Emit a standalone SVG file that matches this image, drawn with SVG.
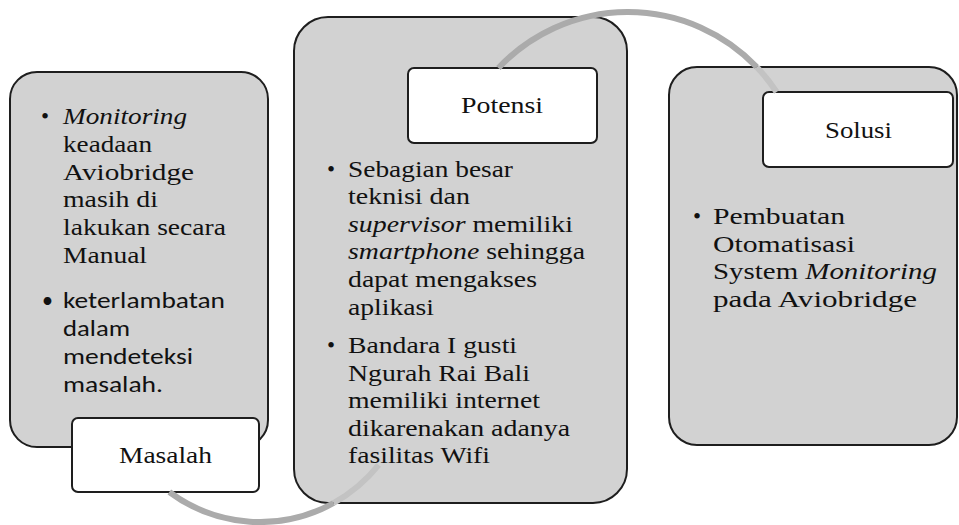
<svg xmlns="http://www.w3.org/2000/svg" width="959" height="525" viewBox="0 0 959 525">
  <style>
    .panel { fill: #d2d2d2; stroke: #1e1e1e; stroke-width: 2; }
    .tag { fill: #ffffff; stroke: #1e1e1e; stroke-width: 2; }
    .arc { fill: none; stroke: #ababab; stroke-width: 6; }
    .arc-dim { fill: none; stroke: #c3c3c3; stroke-width: 6; }
    .serif { font-family: 'Times New Roman', Times, Tinos, 'Liberation Serif', 'Nimbus Roman', 'Noto Serif', serif; font-size: 23px; fill: #111111; }
    .sans { font-family: Carlito, Calibri, Lato, 'Liberation Sans', sans-serif; font-size: 22px; fill: #111111; }
  </style>

  <!-- Masalah -->
  <g id="masalah">
    <rect class="panel" x="10" y="72" width="258" height="375" rx="27"/>
    <g class="serif">
      <text x="41" y="124">•</text>
      <text x="63" y="124" font-style="italic" textLength="124" lengthAdjust="spacingAndGlyphs">Monitoring</text>
      <text x="63" y="152" textLength="89" lengthAdjust="spacingAndGlyphs">keadaan</text>
      <text x="63" y="180" textLength="131" lengthAdjust="spacingAndGlyphs">Aviobridge</text>
      <text x="63" y="207" textLength="95" lengthAdjust="spacingAndGlyphs">masih di</text>
      <text x="63" y="235" textLength="163" lengthAdjust="spacingAndGlyphs">lakukan secara</text>
      <text x="63" y="263" textLength="84" lengthAdjust="spacingAndGlyphs">Manual</text>
    </g>
    <g class="sans">
      <text x="42" y="308">•</text>
      <text x="63" y="308" textLength="162" lengthAdjust="spacingAndGlyphs">keterlambatan</text>
      <text x="63" y="336" textLength="67" lengthAdjust="spacingAndGlyphs">dalam</text>
      <text x="63" y="364" textLength="130" lengthAdjust="spacingAndGlyphs">mendeteksi</text>
      <text x="63" y="392" textLength="100" lengthAdjust="spacingAndGlyphs">masalah.</text>
    </g>
    <rect class="tag" x="72" y="418" width="187" height="74" rx="6"/>
    <text class="serif" x="119" y="463" textLength="93" lengthAdjust="spacingAndGlyphs">Masalah</text>
  </g>

  <!-- Potensi -->
  <g id="potensi">
    <rect class="panel" x="294" y="17" width="333" height="486" rx="34"/>
    <rect class="tag" x="408" y="68" width="189" height="75" rx="6"/>
    <g class="serif">
      <text x="461" y="113" textLength="82" lengthAdjust="spacingAndGlyphs">Potensi</text>
      <text x="327" y="177">•</text>
      <text x="348" y="177" textLength="165" lengthAdjust="spacingAndGlyphs">Sebagian besar</text>
      <text x="348" y="204" textLength="122" lengthAdjust="spacingAndGlyphs">teknisi dan</text>
      <text x="348" y="232" textLength="225" lengthAdjust="spacingAndGlyphs"><tspan font-style="italic">supervisor</tspan> memiliki</text>
      <text x="348" y="259" textLength="237" lengthAdjust="spacingAndGlyphs"><tspan font-style="italic">smartphone</tspan> sehingga</text>
      <text x="348" y="287" textLength="189" lengthAdjust="spacingAndGlyphs">dapat mengakses</text>
      <text x="348" y="315" textLength="86" lengthAdjust="spacingAndGlyphs">aplikasi</text>
      <text x="327" y="353">•</text>
      <text x="348" y="353" textLength="169" lengthAdjust="spacingAndGlyphs">Bandara I gusti</text>
      <text x="348" y="381" textLength="182" lengthAdjust="spacingAndGlyphs">Ngurah Rai Bali</text>
      <text x="348" y="408" textLength="192" lengthAdjust="spacingAndGlyphs">memiliki internet</text>
      <text x="348" y="436" textLength="222" lengthAdjust="spacingAndGlyphs">dikarenakan adanya</text>
      <text x="348" y="463" textLength="142" lengthAdjust="spacingAndGlyphs">fasilitas Wifi</text>
    </g>
  </g>

  <!-- Solusi -->
  <g id="solusi">
    <rect class="panel" x="669" y="67" width="288" height="378" rx="28"/>
    <rect class="tag" x="763" y="92" width="190" height="75" rx="6"/>
    <g class="serif">
      <text x="825" y="138" textLength="67" lengthAdjust="spacingAndGlyphs">Solusi</text>
      <text x="693" y="224">•</text>
      <text x="713" y="224" textLength="132" lengthAdjust="spacingAndGlyphs">Pembuatan</text>
      <text x="713" y="252" textLength="142" lengthAdjust="spacingAndGlyphs">Otomatisasi</text>
      <text x="713" y="279" textLength="224" lengthAdjust="spacingAndGlyphs">System <tspan font-style="italic">Monitoring</tspan></text>
      <text x="713" y="307" textLength="204" lengthAdjust="spacingAndGlyphs">pada Aviobridge</text>
    </g>
  </g>

  <!-- connecting arcs; the lighter parts run behind the panels -->
  <g id="connectors">
    <path class="arc" d="M 169.3 492 A 152 152 0 0 0 333.6 503"/>
    <path class="arc-dim" d="M 333.6 503 A 152 152 0 0 0 378.6 465"/>
    <path class="arc" d="M 498.4 68 A 178 178 0 0 1 756.7 67"/>
    <path class="arc-dim" d="M 756.7 67 A 178 178 0 0 1 776.6 92"/>
  </g>
</svg>
